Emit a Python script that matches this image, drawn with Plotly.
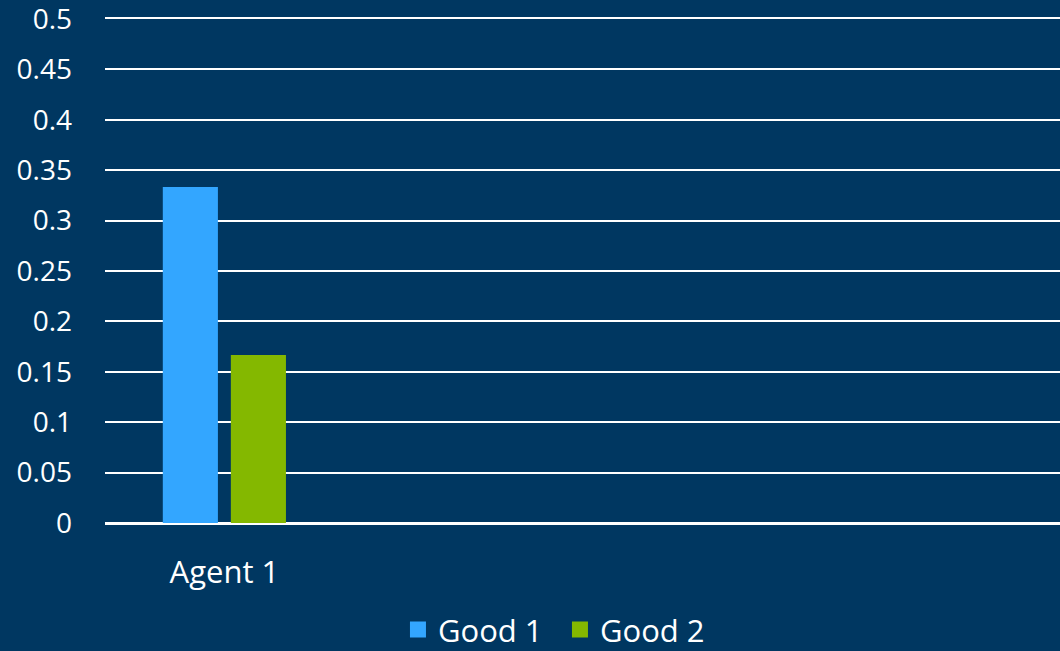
import plotly.graph_objects as go

categories = ["Agent 1"]
series_names = ["Good 1", "Good 2"]
good1 = [0.3333]
good2 = [0.1667]
colors = ["#33A6FF", "#84B800"]
y_ticks = [0, 0.05, 0.1, 0.15, 0.2, 0.25, 0.3, 0.35, 0.4, 0.45, 0.5]
y_tick_labels = ["0", "0.05", "0.1", "0.15", "0.2", "0.25", "0.3", "0.35", "0.4", "0.45", "0.5"]

BG = "#003761"
FONT = "Open Sans, Noto Sans, sans-serif"

fig = go.Figure()
for name, vals, col in zip(series_names, [good1, good2], colors):
    fig.add_trace(go.Bar(x=categories, y=vals, name=name, marker=dict(color=col, line=dict(width=0)),
                         showlegend=False))
    fig.add_trace(go.Scatter(x=[None], y=[None], mode="markers", name=name,
                             marker=dict(symbol="square", size=19, color=col)))

fig.update_layout(
    width=1060, height=651,
    paper_bgcolor=BG, plot_bgcolor=BG,
    margin=dict(l=105, r=0, t=19, b=128, autoexpand=False),
    barmode="group", bargap=0.43, bargroupgap=0.19,
    font=dict(family=FONT, color="white", size=28),
    legend=dict(orientation="h", x=0.4764, xanchor="center", y=-0.212, yanchor="middle",
                font=dict(size=31, color="white"), itemwidth=30, tracegroupgap=0,
                entrywidth=117, entrywidthmode="pixels",
                bgcolor="rgba(0,0,0,0)"),
    xaxis=dict(type="category", range=[-0.5, 3.5], showgrid=False,
               showline=True, mirror=True, linecolor="white", linewidth=2,
               ticks="", ticklabelstandoff=21, tickfont=dict(size=31, color="white"),
               zeroline=False),
    yaxis=dict(range=[0, 0.5], tickvals=y_ticks, ticktext=y_tick_labels,
               showgrid=True, gridcolor="white", gridwidth=2, zeroline=True,
               zerolinecolor="white", zerolinewidth=2, showline=False, ticks="",
               ticklabelstandoff=32, ticklabeloverflow="allow",
               tickfont=dict(size=28, color="white")),
)

fig.write_html("out.html")
